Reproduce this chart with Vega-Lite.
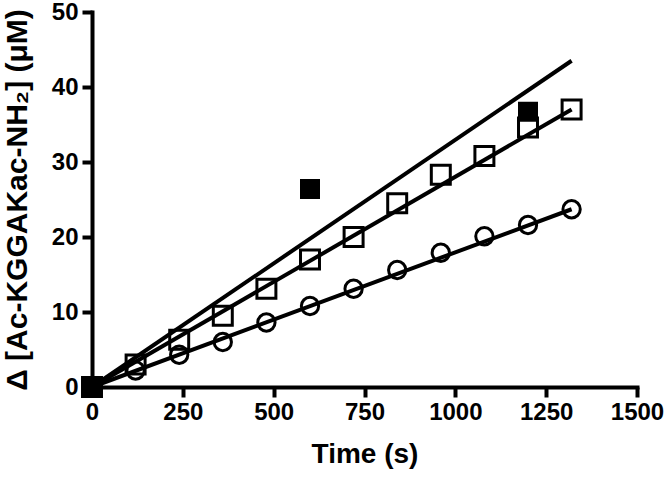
{
  "$schema": "https://vega.github.io/schema/vega-lite/v6.json",
  "autosize": {"type": "none"},
  "width": 545,
  "height": 375,
  "padding": {"left": 92, "top": 12, "right": 34, "bottom": 91},
  "background": "white",
  "config": {
    "view": {"stroke": null},
    "font": "Liberation Sans",
    "axis": {
      "grid": false,
      "domainColor": "black",
      "domainWidth": 4,
      "domainCap": "square",
      "tickColor": "black",
      "tickWidth": 4,
      "tickSize": 10,
      "labelFont": "Liberation Sans",
      "labelFontWeight": "bold",
      "labelFontSize": 24,
      "labelColor": "black",
      "labelFlush": false,
      "labelOverlap": false,
      "titleFont": "Liberation Sans",
      "titleFontWeight": "bold",
      "titleFontSize": 28,
      "titleColor": "black"
    }
  },
  "datasets": {
    "fits": [
      {"series": "A", "time": 0, "value": 0},
      {"series": "A", "time": 1320, "value": 43.5},
      {"series": "B", "time": 0, "value": 0},
      {"series": "B", "time": 1320, "value": 37.0},
      {"series": "C", "time": 0, "value": 0},
      {"series": "C", "time": 1320, "value": 23.7}
    ],
    "openSquares": [
      {"time": 0, "value": 0},
      {"time": 120, "value": 3.0},
      {"time": 240, "value": 6.3},
      {"time": 360, "value": 9.5},
      {"time": 480, "value": 13.1},
      {"time": 600, "value": 17.0},
      {"time": 720, "value": 20.0},
      {"time": 840, "value": 24.5},
      {"time": 960, "value": 28.3},
      {"time": 1080, "value": 30.8},
      {"time": 1200, "value": 34.6},
      {"time": 1320, "value": 37.0}
    ],
    "circles": [
      {"time": 0, "value": 0},
      {"time": 120, "value": 2.2},
      {"time": 240, "value": 4.3},
      {"time": 360, "value": 6.0},
      {"time": 480, "value": 8.6},
      {"time": 600, "value": 10.8},
      {"time": 720, "value": 13.1},
      {"time": 840, "value": 15.6},
      {"time": 960, "value": 17.9},
      {"time": 1080, "value": 20.1},
      {"time": 1200, "value": 21.6},
      {"time": 1320, "value": 23.7}
    ],
    "filledSquares": [
      {"time": 0, "value": 0},
      {"time": 600, "value": 26.4},
      {"time": 1200, "value": 36.7}
    ]
  },
  "encoding": {
    "x": {
      "field": "time", "type": "quantitative",
      "scale": {"domain": [0, 1500], "nice": false},
      "axis": {"values": [0, 250, 500, 750, 1000, 1250, 1500], "format": "d", "title": "Time (s)", "labelPadding": 3, "titlePadding": 16}
    },
    "y": {
      "field": "value", "type": "quantitative",
      "scale": {"domain": [0, 50], "nice": false},
      "axis": {"values": [0, 10, 20, 30, 40, 50], "format": "d", "title": "Δ [Ac-KGGAKac-NH₂] (μM)", "titleFontSize": 30, "labelPadding": 4, "titlePadding": 19}
    }
  },
  "layer": [
    {
      "data": {"name": "fits"},
      "mark": {"type": "line", "color": "black", "strokeWidth": 4, "clip": false},
      "encoding": {"detail": {"field": "series"}}
    },
    {
      "data": {"name": "openSquares"},
      "mark": {"type": "point", "shape": "square", "filled": false, "stroke": "black", "strokeWidth": 3, "size": 360, "opacity": 1}
    },
    {
      "data": {"name": "circles"},
      "mark": {"type": "point", "shape": "circle", "filled": false, "stroke": "black", "strokeWidth": 3, "size": 300, "opacity": 1}
    },
    {
      "data": {"name": "filledSquares"},
      "mark": {"type": "point", "shape": "square", "filled": true, "fill": "black", "size": 400, "opacity": 1}
    }
  ]
}
